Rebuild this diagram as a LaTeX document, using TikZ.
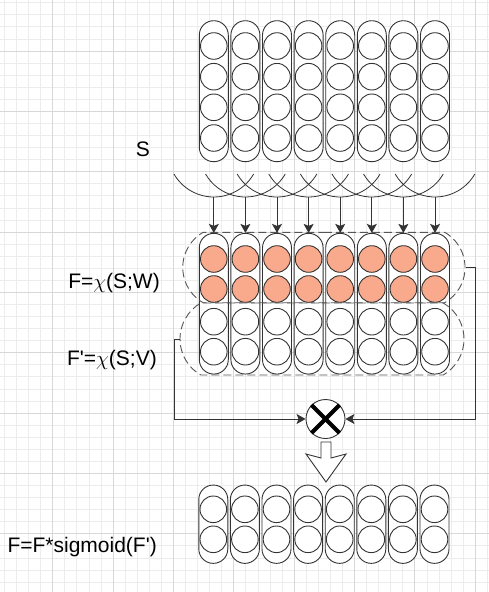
\documentclass[tikz,border=0pt]{standalone}
\usepackage{fontspec}
\setmainfont{Liberation Sans}
\usetikzlibrary{shapes.misc,arrows.meta}
\definecolor{stroke}{RGB}{51,51,51}
\definecolor{dashgray}{RGB}{85,85,85}
\definecolor{salmon}{RGB}{250,170,140}
\definecolor{gridminor}{RGB}{236,236,236}
\definecolor{gridmajor}{RGB}{216,216,216}
\tikzset{
  capsule/.style={draw=stroke, fill=white, line width=0.9pt, rectangle, rounded corners=14.4pt, minimum width=29pt, inner sep=0pt},
  ball/.style={circle, draw=stroke, fill=white, line width=0.9pt, minimum size=26.6pt, inner sep=0pt},
  hot/.style={ball, fill=salmon},
  group/.style={rounded rectangle, rounded rectangle arc length=120, draw=dashgray, dash pattern=on 8pt off 4pt, line width=0.9pt, inner sep=0pt},
  link/.style={draw=stroke, line width=0.9pt},
  tip/.style={-{Stealth[length=9pt,width=10pt,inset=2pt]}},
  lbl/.style={font=\fontsize{21}{25}\selectfont, inner sep=0pt},
  mult/.style={circle, draw=stroke, fill=white, line width=0.9pt, minimum size=39pt, inner sep=0pt}
}
\begin{document}
\begin{tikzpicture}[x=1pt,y=1pt]
\useasboundingbox (0,0) rectangle (489,-592);
\fill[white] (0,0) rectangle (489,-592);
% grid
\foreach \k in {1,...,41} {\draw[gridminor, line width=0.8pt] ({-7.6+12.07*\k},0) -- ++(0,-592);}
\foreach \k in {1,...,50} {\draw[gridminor, line width=0.8pt] (0,{9.35-12.07*\k}) -- ++(489,0);}
\foreach \k in {1,...,8} {\draw[gridmajor, line width=0.8pt] ({-7.6+60.35*\k},0) -- ++(0,-592);}
\foreach \k in {1,...,10} {\draw[gridmajor, line width=0.8pt] (0,{9.35-60.35*\k}) -- ++(489,0);}

% top block S
\foreach \i in {0,...,7} {
  \pgfmathsetmacro{\cx}{213.8+31.6*\i}
  \node[capsule, minimum height=141pt] (t\i) at (\cx,-91.2) {};
  \node[ball] (t\i a) at (\cx,-46) {};
  \node[ball] (t\i b) at (\cx,-76.7) {};
  \node[ball] (t\i c) at (\cx,-107.3) {};
  \node[ball] (t\i d) at (\cx,-138) {};
}

% middle block
\foreach \i in {0,...,7} {
  \pgfmathsetmacro{\cx}{213.8+31.6*\i}
  \node[capsule, minimum height=140.7pt] (m\i) at (\cx,-303.7) {};
  \node[hot] (m\i a) at (\cx,-259) {};
  \node[hot] (m\i b) at (\cx,-289) {};
  \node[ball] (m\i c) at (\cx,-321.7) {};
  \node[ball] (m\i d) at (\cx,-351.7) {};
}
\node[group, minimum width=282.3pt, minimum height=70.4pt] (gW) at (323.9,-267.5) {};
\node[group, minimum width=284pt, minimum height=72pt] (gV) at (322,-339) {};

% arcs and arrows
\foreach \i in {0,...,7} {
  \pgfmathsetmacro{\cx}{213.8+31.6*\i}
  \draw[link, line width=0.8pt] ([shift={(210:46)}]\cx,-151) arc[start angle=210, end angle=330, radius=46];
  \coordinate (a\i) at (\cx,-197);
  \draw[link, tip] (a\i) -- (m\i.north);
}

% multiply
\node[mult] (x) at (325.5,-419) {};
\draw[black, line width=4pt] (x.north west) -- (x.south east);
\draw[black, line width=4pt] (x.north east) -- (x.south west);
\draw[link, tip] (gW.east) -- ++(10,0) |- (x.east);
\draw[link, tip] (gV.west) -- ++(-5,0) |- (x.west);

% hollow arrow
\draw[link, fill=white] (321,-442) -- (331,-442) -- (331,-458) -- (346,-454) -- (326,-482) -- (306,-454) -- (321,-458) -- cycle;

% bottom block
\foreach \i in {0,...,7} {
  \pgfmathsetmacro{\cx}{213.3+31.6*\i}
  \node[capsule, minimum height=78.3pt] (b\i) at (\cx,-524.2) {};
  \node[ball] (b\i a) at (\cx,-509.3) {};
  \node[ball] (b\i b) at (\cx,-539.3) {};
}

% labels
\node[lbl] (S) at (143,-149) {S};
\node[lbl, anchor=east] (F) at (160,-283) {F=$\chi$(S;W)};
\node[lbl, anchor=east] (Fp) at (157,-360) {F\textquotesingle=$\chi$(S;V)};
\node[lbl, anchor=east] (Fs) at (157,-547) {F=F*sigmoid(F\textquotesingle)};
\end{tikzpicture}
\end{document}
